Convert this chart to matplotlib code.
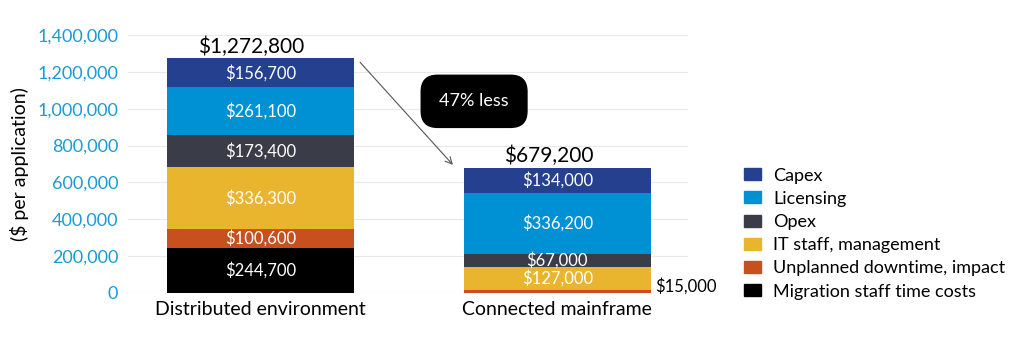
import matplotlib
matplotlib.use('Agg')
import matplotlib.pyplot as plt
from matplotlib.patches import Patch

plt.rcParams['font.family'] = ['Lato', 'DejaVu Sans']

categorias = ["Distributed environment", "Connected mainframe"]
series = ["Migration staff time costs", "Unplanned downtime, impact",
          "IT staff, management", "Opex", "Licensing", "Capex"]
valores = {
    "Migration staff time costs": [244700, 0],
    "Unplanned downtime, impact": [100600, 15000],
    "IT staff, management": [336300, 127000],
    "Opex": [173400, 67000],
    "Licensing": [261100, 336200],
    "Capex": [156700, 134000],
}
colores = {
    "Migration staff time costs": "#000000",
    "Unplanned downtime, impact": "#c8501e",
    "IT staff, management": "#e9b52f",
    "Opex": "#3a3d47",
    "Licensing": "#0090d4",
    "Capex": "#24408f",
}
totales = [1272800, 679200]
texto_ahorro = "47% less"

fig = plt.figure(figsize=(10.2, 3.42), dpi=100)
ax = fig.add_axes([0.1255, 0.1433, 0.549, 0.7544])

ancho = 0.63
x = list(range(len(categorias)))
base = [0, 0]
for s in series:
    vals = valores[s]
    ax.bar(x, vals, ancho, bottom=base, color=colores[s], zorder=3)
    for i, v in enumerate(vals):
        if v == 0:
            continue
        etiqueta = "${:,}".format(v)
        if v < 40000:
            ax.text(x[i] + ancho / 2 + 0.015, base[i] + v / 2 + 30000, etiqueta,
                    ha='left', va='center', fontsize=12, color='black')
        else:
            ax.text(x[i], base[i] + v / 2, etiqueta, ha='center', va='center',
                    fontsize=12, color='white', zorder=4)
    base = [b + v for b, v in zip(base, vals)]

for i, t in enumerate(totales):
    ax.text(x[i] - 0.03, t + 8000, "${:,}".format(t), ha='center', va='bottom',
            fontsize=15, color='black')

# flecha entre barras
ax.annotate("", xy=(1 - ancho / 2 - 0.03, totales[1] + 5000),
            xytext=(ancho / 2 + 0.015, totales[0] - 10000),
            arrowprops=dict(arrowstyle='->', color='#555555', lw=0.8,
                            mutation_scale=12))
ax.text(0.72, 1040000, texto_ahorro, ha='center', va='center', fontsize=13,
        color='white',
        bbox=dict(boxstyle='round,pad=1.0,rounding_size=0.9', fc='black', ec='black'))

ax.set_xlim(-0.445, 1.44)
ax.set_ylim(0, 1400000)
ax.set_yticks(range(0, 1400001, 200000))
ax.set_yticklabels(["{:,}".format(v) for v in range(0, 1400001, 200000)])
ax.tick_params(axis='y', colors='#1a9ad6', labelsize=13, length=0, pad=7)
ax.tick_params(axis='x', labelsize=14, length=0, pad=6)
ax.set_xticks(x)
ax.set_xticklabels(categorias)
ax.grid(axis='y', color='#e9e9e9', lw=0.8, zorder=0)
for sp in ax.spines.values():
    sp.set_visible(False)
ax.set_ylabel("($ per application)", fontsize=14, labelpad=6)

handles = [Patch(color=colores[s], label=s) for s in reversed(series)]
fig.legend(handles=handles, loc='upper left', bbox_to_anchor=(0.729, 0.51),
           frameon=False, fontsize=13, handlelength=0.95, handleheight=0.65,
           handletextpad=0.7, labelspacing=0.4, borderaxespad=0, borderpad=0)

fig.savefig("out.png", dpi=100)
plt.close()
